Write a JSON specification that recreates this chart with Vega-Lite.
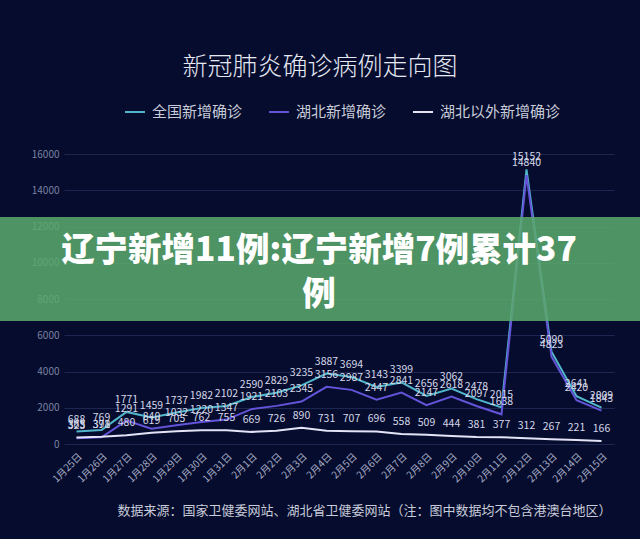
{
  "$schema": "https://vega.github.io/schema/vega-lite/v6.json",
  "autosize": {"type": "none"},
  "width": 550,
  "height": 290,
  "padding": {"left": 64, "top": 154, "right": 26, "bottom": 95},
  "background": "#050c2e",
  "title": {
    "text": "新冠肺炎确诊病例走向图",
    "font": "Noto Sans CJK SC",
    "fontSize": 25,
    "fontWeight": 300,
    "color": "#e6e8f2",
    "anchor": "middle",
    "dx": -19,
    "offset": 21
  },
  "config": {
    "view": {"stroke": null},
    "font": "Noto Sans CJK SC"
  },
  "resolve": {"axis": {"x": "independent", "y": "independent"}},
  "layer": [
    {
      "data": {
        "values": [
          {"day": 0, "全国新增确诊": 688, "湖北新增确诊": 323, "湖北以外新增确诊": 365},
          {"day": 1, "全国新增确诊": 769, "湖北新增确诊": 371, "湖北以外新增确诊": 398},
          {"day": 2, "全国新增确诊": 1771, "湖北新增确诊": 1291, "湖北以外新增确诊": 480},
          {"day": 3, "全国新增确诊": 1459, "湖北新增确诊": 840, "湖北以外新增确诊": 619},
          {"day": 4, "全国新增确诊": 1737, "湖北新增确诊": 1032, "湖北以外新增确诊": 705},
          {"day": 5, "全国新增确诊": 1982, "湖北新增确诊": 1220, "湖北以外新增确诊": 762},
          {"day": 6, "全国新增确诊": 2102, "湖北新增确诊": 1347, "湖北以外新增确诊": 755},
          {"day": 7, "全国新增确诊": 2590, "湖北新增确诊": 1921, "湖北以外新增确诊": 669},
          {"day": 8, "全国新增确诊": 2829, "湖北新增确诊": 2103, "湖北以外新增确诊": 726},
          {"day": 9, "全国新增确诊": 3235, "湖北新增确诊": 2345, "湖北以外新增确诊": 890},
          {"day": 10, "全国新增确诊": 3887, "湖北新增确诊": 3156, "湖北以外新增确诊": 731},
          {"day": 11, "全国新增确诊": 3694, "湖北新增确诊": 2987, "湖北以外新增确诊": 707},
          {"day": 12, "全国新增确诊": 3143, "湖北新增确诊": 2447, "湖北以外新增确诊": 696},
          {"day": 13, "全国新增确诊": 3399, "湖北新增确诊": 2841, "湖北以外新增确诊": 558},
          {"day": 14, "全国新增确诊": 2656, "湖北新增确诊": 2147, "湖北以外新增确诊": 509},
          {"day": 15, "全国新增确诊": 3062, "湖北新增确诊": 2618, "湖北以外新增确诊": 444},
          {"day": 16, "全国新增确诊": 2478, "湖北新增确诊": 2097, "湖北以外新增确诊": 381},
          {"day": 17, "全国新增确诊": 2015, "湖北新增确诊": 1638, "湖北以外新增确诊": 377},
          {"day": 18, "全国新增确诊": 15152, "湖北新增确诊": 14840, "湖北以外新增确诊": 312},
          {"day": 19, "全国新增确诊": 5090, "湖北新增确诊": 4823, "湖北以外新增确诊": 267},
          {"day": 20, "全国新增确诊": 2641, "湖北新增确诊": 2420, "湖北以外新增确诊": 221},
          {"day": 21, "全国新增确诊": 2009, "湖北新增确诊": 1843, "湖北以外新增确诊": 166}
        ]
      },
      "transform": [
        {"fold": ["全国新增确诊", "湖北新增确诊", "湖北以外新增确诊"], "as": ["series", "value"]}
      ],
      "encoding": {
        "x": {
          "field": "day",
          "type": "quantitative",
          "scale": {"domain": [-0.5, 21.5], "nice": false, "zero": false},
          "axis": {
            "values": [0,1,2,3,4,5,6,7,8,9,10,11,12,13,14,15,16,17,18,19,20,21],
            "labelExpr": "['1月25日','1月26日','1月27日','1月28日','1月29日','1月30日','1月31日','2月1日','2月2日','2月3日','2月4日','2月5日','2月6日','2月7日','2月8日','2月9日','2月10日','2月11日','2月12日','2月13日','2月14日','2月15日'][datum.value]",
            "labelAngle": -45,
            "labelColor": "#a8aec6",
            "labelFontSize": 10,
            "labelPadding": 7,
            "labelFlush": false,
            "labelOverlap": false,
            "grid": false,
            "domain": false,
            "ticks": false,
            "title": "数据来源：国家卫健委网站、湖北省卫健委网站（注：图中数据均不包含港澳台地区）",
            "titleFontSize": 13,
            "titleFontWeight": "normal",
            "titleColor": "#c8cbd8",
            "titleX": 300,
            "titleY": 66,
            "titleAlign": "center",
            "titleBaseline": "middle"
          }
        },
        "y": {
          "field": "value",
          "type": "quantitative",
          "scale": {"domain": [0, 16000], "nice": false},
          "axis": {
            "values": [0, 2000, 4000, 6000, 8000, 10000, 12000, 14000, 16000],
            "format": "d",
            "labelColor": "#7c82a0",
            "labelFontSize": 10,
            "labelPadding": 5,
            "gridColor": "#1c2650",
            "gridWidth": 1,
            "domain": false,
            "ticks": false,
            "title": null
          }
        }
      },
      "layer": [
        {
          "mark": {"type": "line", "strokeWidth": 2},
          "encoding": {
            "color": {
              "field": "series",
              "type": "nominal",
              "scale": {
                "domain": ["全国新增确诊", "湖北新增确诊", "湖北以外新增确诊"],
                "range": ["#52b6ca", "#6354d8", "#e4e4f6"]
              },
              "legend": {
                "orient": "none",
                "direction": "horizontal",
                "legendX": 60,
                "legendY": -53,
                "title": null,
                "symbolType": "stroke",
                "symbolSize": 400,
                "symbolStrokeWidth": 2,
                "labelFontSize": 15,
                "labelColor": "#c8cbd8",
                "labelOffset": 6,
                "columnPadding": 22,
                "labelLimit": 200
              }
            }
          }
        },
        {
          "mark": {"type": "text", "dy": -12, "fontSize": 10.5, "fill": "#d6d8e8"},
          "encoding": {
            "text": {"field": "value", "type": "quantitative", "format": "d"}
          }
        }
      ]
    },
    {
      "data": {"values": [{"banner": "辽宁"}]},
      "mark": {"type": "rect", "fill": "#5bac6c", "opacity": 0.85},
      "encoding": {
        "x": {"datum": -3.1, "type": "quantitative", "axis": null},
        "x2": {"datum": 22.6},
        "y": {"datum": 6786, "type": "quantitative", "axis": null},
        "y2": {"datum": 12524}
      }
    },
    {
      "data": {"values": [{"banner": "辽宁"}]},
      "mark": {
        "type": "text",
        "text": ["辽宁新增11例:辽宁新增7例累计37", "例"],
        "lineHeight": 44,
        "fontSize": 33.5,
        "fontWeight": 900,
        "fill": "#ffffff",
        "align": "center",
        "baseline": "middle",
        "dx": -20
      },
      "encoding": {
        "x": {"datum": 10.5, "type": "quantitative", "axis": null},
        "y": {"datum": 10648, "type": "quantitative", "axis": null}
      }
    }
  ]
}
